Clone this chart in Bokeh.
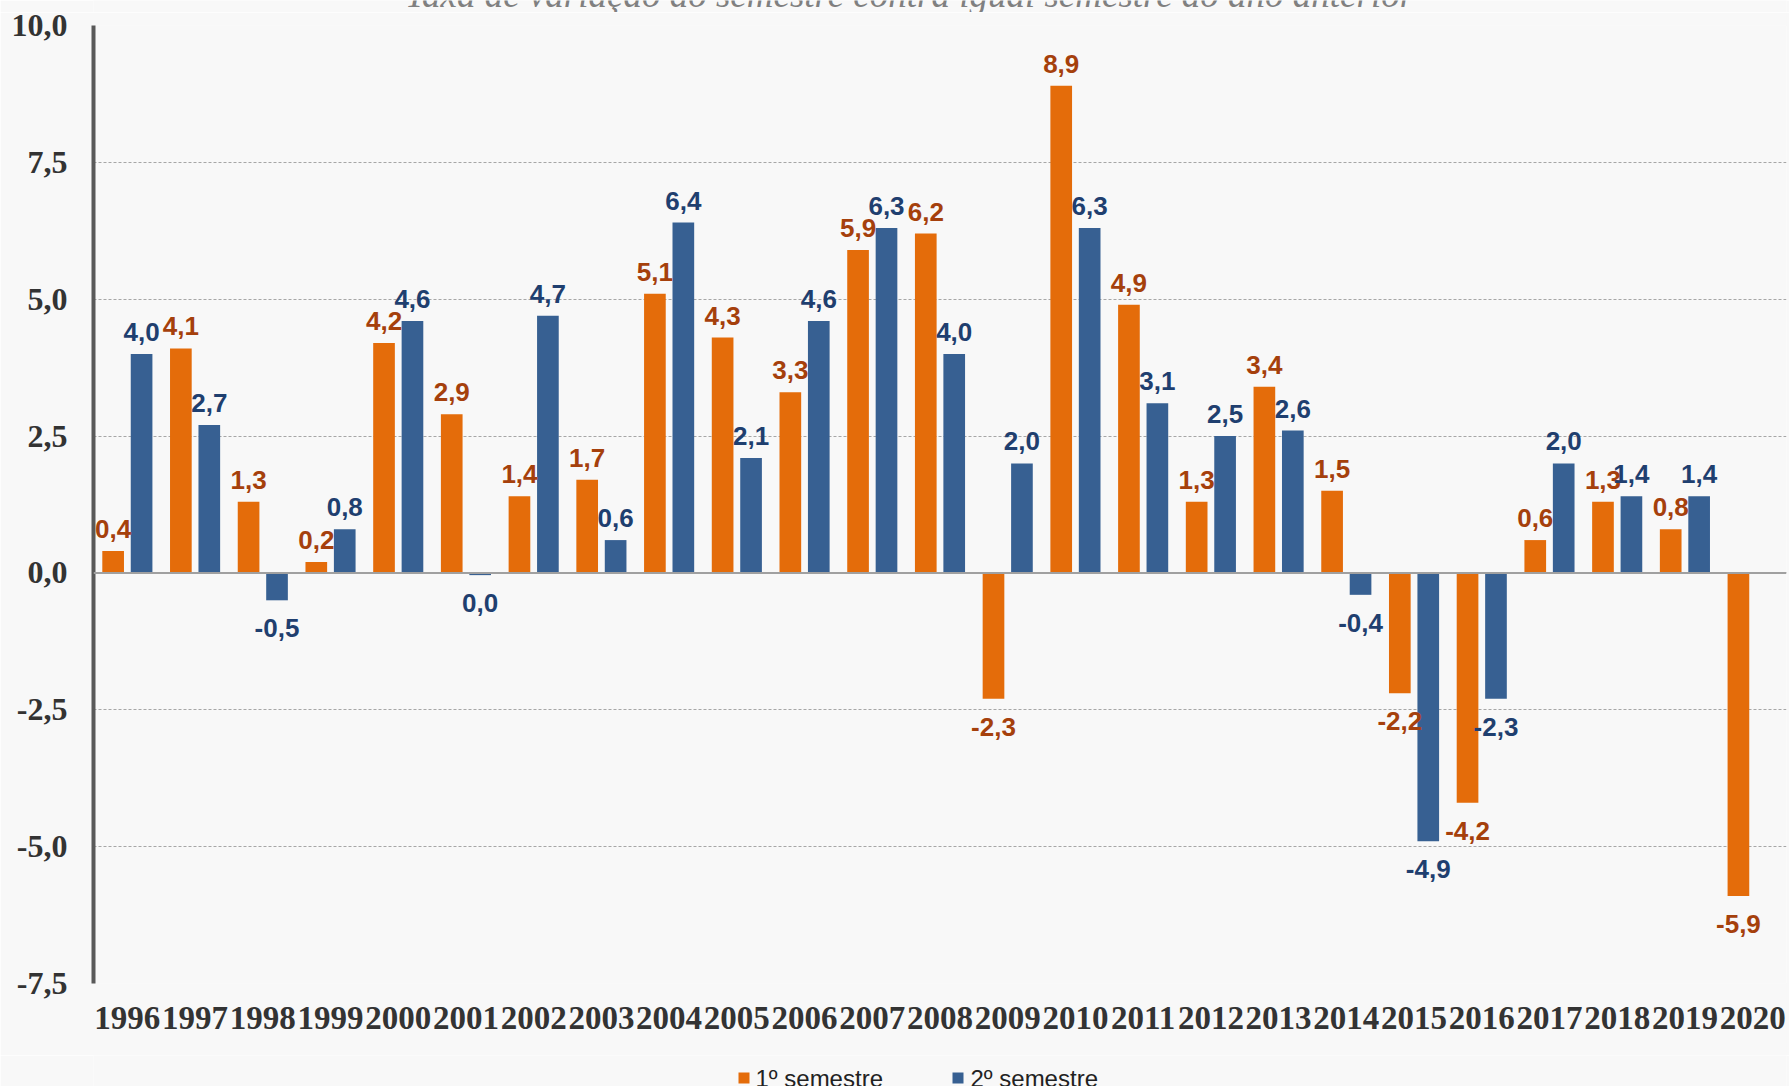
from bokeh.plotting import figure
from bokeh.layouts import column
from bokeh.models import (ColumnDataSource, FactorRange, Range1d, FixedTicker, CustomJSTickFormatter,
                          Span)
from bokeh.transform import dodge
from bokeh.core.properties import value
from bokeh.embed import file_html
from bokeh.resources import INLINE

years = ["1996", "1997", "1998", "1999", "2000", "2001", "2002", "2003", "2004", "2005",
         "2006", "2007", "2008", "2009", "2010", "2011", "2012", "2013", "2014", "2015",
         "2016", "2017", "2018", "2019", "2020"]
sem1 = [0.4, 4.1, 1.3, 0.2, 4.2, 2.9, 1.4, 1.7, 5.1, 4.3, 3.3, 5.9, 6.2, -2.3, 8.9,
        4.9, 1.3, 3.4, 1.5, -2.2, -4.2, 0.6, 1.3, 0.8, -5.9]
sem2 = [4.0, 2.7, -0.5, 0.8, 4.6, -0.04, 4.7, 0.6, 6.4, 2.1, 4.6, 6.3, 4.0, 2.0, 6.3,
        3.1, 2.5, 2.6, -0.4, -4.9, -2.3, 2.0, 1.4, 1.4, None]
y_ticks = [-7.5, -5.0, -2.5, 0.0, 2.5, 5.0, 7.5, 10.0]
series_names = ["1º semestre", "2º semestre"]
title_text = "Taxa de variação do semestre contra igual semestre do ano anterior"

ORANGE = "#E46C0A"
BLUE = "#376092"
ORANGE_TXT = "#A5400C"
BLUE_TXT = "#1F3F6F"
BG = "#F8F8F8"
W = 1789
FL, FR = 93, 1786   # frame left / right in page pixels (frames are aligned by the column)


def fmt(v):
    s = f"{v:.1f}".replace(".", ",")
    return "0,0" if s == "-0,0" else s


def make_source(vals):
    xs, tops, labs, offs = [], [], [], []
    for yr, v in zip(years, vals):
        if v is None:
            continue
        xs.append(yr)
        tops.append(v)
        labs.append(fmt(v))
        offs.append(-22 if v >= 0 else 28)
    return ColumnDataSource(dict(x=xs, top=tops, lab=labs, off=offs))


def strip(fig):
    fig.background_fill_color = BG
    fig.border_fill_color = BG
    fig.outline_line_color = None
    fig.xgrid.grid_line_color = None
    fig.ygrid.grid_line_color = None


# ---- title strip (text is cut off at the top, as in the reference)
TH = 12
pt = figure(width=W, height=TH, x_range=Range1d(FL, FR), y_range=Range1d(0, TH),
            x_axis_type=None, y_axis_type=None, output_backend="svg", toolbar_location=None,
            min_border=0)
strip(pt)
pt.text(x=[909], y=[TH + 6], text=[title_text], text_align="center", text_baseline="alphabetic",
        text_font=value("Liberation Serif"), text_font_style="italic", text_font_size="37px",
        text_color="#808080")

# ---- main chart
s1 = make_source(sem1)
s2 = make_source(sem2)

p = figure(x_range=FactorRange(*years), y_range=Range1d(-7.5, 10.0),
           width=W, height=1043, output_backend="svg", toolbar_location=None,
           min_border_left=FL, min_border_right=W - FR, min_border_top=13, min_border_bottom=72)
p.background_fill_color = BG
p.border_fill_color = BG
p.outline_line_color = None

bw = 0.32
p.vbar(x=dodge("x", -0.21, range=p.x_range), top="top", bottom=0, width=bw,
       source=s1, fill_color=ORANGE, line_color=None)
p.vbar(x=dodge("x", 0.21, range=p.x_range), top="top", bottom=0, width=bw,
       source=s2, fill_color=BLUE, line_color=None)

p.text(x=dodge("x", -0.21, range=p.x_range), y="top", text="lab", y_offset="off", source=s1,
       text_align="center", text_baseline="alphabetic", text_color=ORANGE_TXT,
       text_font=value("Liberation Sans"), text_font_style="bold", text_font_size="26px")
p.text(x=dodge("x", 0.21, range=p.x_range), y="top", text="lab", y_offset="off", source=s2,
       text_align="center", text_baseline="alphabetic", text_color=BLUE_TXT,
       text_font=value("Liberation Sans"), text_font_style="bold", text_font_size="26px")

p.add_layout(Span(location=0, dimension="width", line_color="#A0A0A0", line_width=2))

p.xgrid.grid_line_color = None
p.ygrid.grid_line_color = "#A6A6A6"
p.ygrid.grid_line_dash = "3 2"
p.ygrid.grid_line_width = 1

p.yaxis.ticker = FixedTicker(ticks=y_ticks)
p.yaxis.formatter = CustomJSTickFormatter(code="return tick.toFixed(1).replace('.', ',');")
p.yaxis.axis_line_color = "#595959"
p.yaxis.axis_line_width = 4
p.yaxis.major_tick_line_color = None
p.yaxis.minor_tick_line_color = None
p.yaxis.major_label_text_font = "Liberation Serif"
p.yaxis.major_label_text_font_style = "bold"
p.yaxis.major_label_text_font_size = "32px"
p.yaxis.major_label_text_color = "#333333"
p.yaxis.major_label_standoff = 20

p.xaxis.axis_line_color = None
p.xaxis.major_tick_line_color = None
p.xaxis.minor_tick_line_color = None
p.xaxis.major_label_text_font = "Liberation Serif"
p.xaxis.major_label_text_font_style = "bold"
p.xaxis.major_label_text_font_size = "33px"
p.xaxis.major_label_text_color = "#333333"
p.xaxis.major_label_standoff = 17

# ---- legend strip
LH = 31
pl = figure(width=W, height=LH, x_range=Range1d(FL, FR), y_range=Range1d(0, LH),
            x_axis_type=None, y_axis_type=None, output_backend="svg", toolbar_location=None,
            min_border=0)
strip(pl)
pl.scatter(x=[743.5, 957.5], y=[8.5, 8.5], marker="square", size=11,
           fill_color=[ORANGE, BLUE], line_color=None)
pl.text(x=[755, 970], y=[8.5, 8.5], text=series_names, text_align="left",
        text_baseline="alphabetic", text_font=value("Liberation Sans"), text_font_size="24px",
        text_color="#222222")

layout = column(pt, p, pl, spacing=0)
open("out.html", "w").write(file_html(layout, INLINE))
